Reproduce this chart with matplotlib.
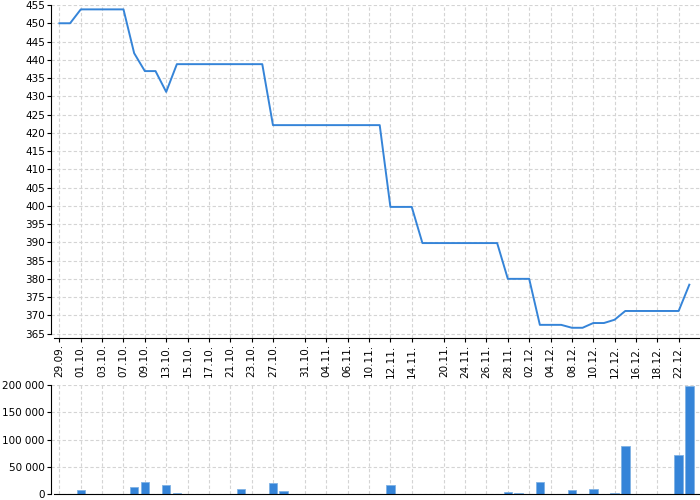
import matplotlib
matplotlib.use("Agg")
import matplotlib.pyplot as plt
from matplotlib.ticker import FuncFormatter

# trading days
dates = ["29.09.", "30.09.", "01.10.", "02.10.", "03.10.", "06.10.", "07.10.", "08.10.",
         "09.10.", "10.10.", "13.10.", "14.10.", "15.10.", "16.10.", "17.10.", "20.10.",
         "21.10.", "22.10.", "23.10.", "24.10.", "27.10.", "28.10.", "30.10.", "31.10.",
         "03.11.", "04.11.", "05.11.", "06.11.", "07.11.", "10.11.", "11.11.", "12.11.",
         "13.11.", "14.11.", "17.11.", "19.11.", "20.11.", "21.11.", "24.11.", "25.11.",
         "26.11.", "27.11.", "28.11.", "01.12.", "02.12.", "03.12.", "04.12.", "05.12.",
         "08.12.", "09.12.", "10.12.", "11.12.", "12.12.", "15.12.", "16.12.", "17.12.",
         "18.12.", "19.12.", "22.12.", "23.12."]

shown_labels = ["29.09.", "01.10.", "03.10.", "07.10.", "09.10.", "13.10.", "15.10.",
                "17.10.", "21.10.", "23.10.", "27.10.", "31.10.", "04.11.", "06.11.",
                "10.11.", "12.11.", "14.11.", "20.11.", "24.11.", "26.11.", "28.11.",
                "02.12.", "04.12.", "08.12.", "10.12.", "12.12.", "16.12.", "18.12.",
                "22.12."]

price = [450.0, 450.0, 453.8, 453.8, 453.8, 453.8, 453.8, 441.8, 436.9, 436.9,
         431.2, 438.8, 438.8, 438.8, 438.8, 438.8, 438.8, 438.8, 438.8, 438.8,
         422.1, 422.1, 422.1, 422.1, 422.1, 422.1, 422.1, 422.1, 422.1, 422.1,
         422.1, 399.7, 399.7, 399.7, 389.8, 389.8, 389.8, 389.8, 389.8, 389.8,
         389.8, 389.8, 380.0, 380.0, 380.0, 367.4, 367.4, 367.4, 366.6, 366.6,
         367.9, 367.9, 368.8, 371.2, 371.2, 371.2, 371.2, 371.2, 371.2, 378.4]

volume = [0, 0, 7000, 0, 0, 0, 0, 12300, 21500, 0,
          17300, 1000, 0, 0, 0, 0, 0, 9900, 0, 0,
          19700, 5000, 0, 0, 0, 0, 0, 0, 0, 0,
          0, 16000, 0, 0, 700, 0, 0, 0, 0, 0,
          0, 0, 3100, 1500, 0, 21500, 0, 0, 7400, 0,
          9200, 0, 1200, 88300, 0, 0, 0, 0, 70700, 198200]

x = list(range(len(dates)))
ticks = [i for i, d in enumerate(dates) if d in shown_labels]
tick_labels = [dates[i] for i in ticks]

# only days with trades get a bar
bar_x = [i for i in x if volume[i] > 0]
bar_v = [volume[i] for i in bar_x]

blue = "#3584d8"
grid_kw = dict(color="#d4d4d4", linestyle=(0, (3, 2)), linewidth=0.8)

fig = plt.figure(figsize=(7, 5), dpi=100)
ax1 = fig.add_axes([0.073, 0.324, 0.927, 0.666])
ax2 = fig.add_axes([0.073, 0.012, 0.927, 0.218])

for ax in (ax1, ax2):
    ax.set_xlim(-0.78, 60)
    ax.grid(True, **grid_kw)
    ax.set_axisbelow(True)
    ax.spines["top"].set_visible(False)
    ax.spines["right"].set_visible(False)
    ax.spines["bottom"].set_bounds(-0.5, 60)
    ax.tick_params(labelsize=7.5, length=3, width=0.8, pad=1.5)

ax1.plot(x, price, color=blue, linewidth=1.4)
ax1.set_ylim(363.8, 455)
ax1.set_yticks(range(365, 456, 5))
ax1.set_xticks(ticks)
ax1.set_xticklabels(tick_labels, rotation=90)
ax1.spines["left"].set_bounds(365, 455)

ax2.bar(bar_x, bar_v, width=0.8, color=blue, edgecolor="#7fb2e5", linewidth=0.6)
ax2.set_ylim(0, 200000)
ax2.set_yticks(range(0, 200001, 50000))
ax2.yaxis.set_major_formatter(FuncFormatter(lambda v, p: f"{int(v):,}".replace(",", " ")))
ax2.set_xticks(ticks)
ax2.tick_params(axis="x", length=0, labelbottom=False)

fig.savefig("out.png", dpi=100)
